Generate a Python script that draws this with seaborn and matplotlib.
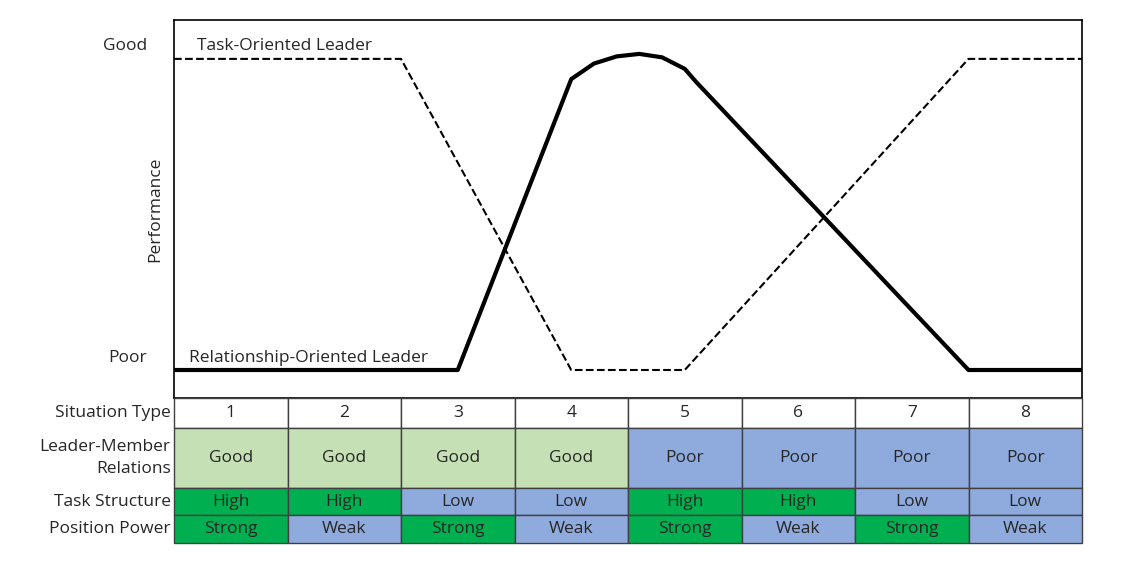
import matplotlib
matplotlib.use("Agg")
import matplotlib.pyplot as plt
import seaborn as sns
import pandas as pd
from matplotlib.patches import Rectangle

sns.set_style("white")
plt.rcParams['font.family'] = ['Open Sans', 'DejaVu Sans']

task_x = [0, 2, 3.5, 4.5, 7, 8]
task_y = [1, 1, 0, 0, 1, 1]
rel_x = [0, 2.5, 3.5, 3.7, 3.9, 4.1, 4.3, 4.5, 4.6, 7, 8]
rel_y = [0, 0, 0.935, 0.985, 1.008, 1.016, 1.005, 0.968, 0.926, 0, 0]

situations = ["1", "2", "3", "4", "5", "6", "7", "8"]
lmr = ["Good", "Good", "Good", "Good", "Poor", "Poor", "Poor", "Poor"]
task_structure = ["High", "High", "Low", "Low", "High", "High", "Low", "Low"]
position_power = ["Strong", "Weak", "Strong", "Weak", "Strong", "Weak", "Strong", "Weak"]
row_labels = ["Situation Type", "Leader-Member\nRelations", "Task Structure", "Position Power"]

W, H = 1138, 572
fig = plt.figure(figsize=(11.38, 5.72), dpi=100)
ax = fig.add_axes([174/W, 1-398/H, 908/W, 378/H])
sns.lineplot(x=task_x, y=task_y, ax=ax, color="black", linestyle="--", linewidth=1.5, sort=False)
sns.lineplot(x=rel_x, y=rel_y, ax=ax, color="black", linewidth=3, sort=False)
ax.set_xlim(0, 8)
ax.set_ylim(-0.09, 1.125)
ax.set_xticks([]); ax.set_yticks([])
for s in ax.spines.values():
    s.set_color("black"); s.set_linewidth(1.2)
ax.text(0.2, 1.04, "Task-Oriented Leader", fontsize=12.5, va="center")
ax.text(0.13, 0.04, "Relationship-Oriented Leader", fontsize=12.5, va="center")
ax.text(-0.03, 1.04, "Good", fontsize=12.5, ha="right", va="center", transform=ax.get_yaxis_transform())
ax.text(-0.03, 0.04, "Poor", fontsize=12.5, ha="right", va="center", transform=ax.get_yaxis_transform())
ax.set_ylabel("Performance", fontsize=12.5, labelpad=8)

tab = fig.add_axes([174/W, 1-543/H, 908/W, 145/H])
tab.set_xlim(0, 8); tab.set_ylim(145, 0); tab.axis("off")
lg, bl, gr = "#c5e0b4", "#8faadc", "#00b050"
rows = [(0, 30, situations, lambda v: "white"),
        (30, 60, lmr, lambda v: lg if v == "Good" else bl),
        (90, 27, task_structure, lambda v: gr if v == "High" else bl),
        (117, 28, position_power, lambda v: gr if v == "Strong" else bl)]
for (y0, h, vals, cf), lab in zip(rows, row_labels):
    for i, v in enumerate(vals):
        tab.add_patch(Rectangle((i, y0), 1, h, facecolor=cf(v), edgecolor="#404040", linewidth=1, clip_on=False))
        tab.text(i+0.5, y0+h/2, v, ha="center", va="center", fontsize=12.5)
    tab.text(-0.03, y0+h/2, lab, ha="right", va="center", fontsize=12.5, linespacing=1.5)
fig.savefig("out.png", dpi=100)
